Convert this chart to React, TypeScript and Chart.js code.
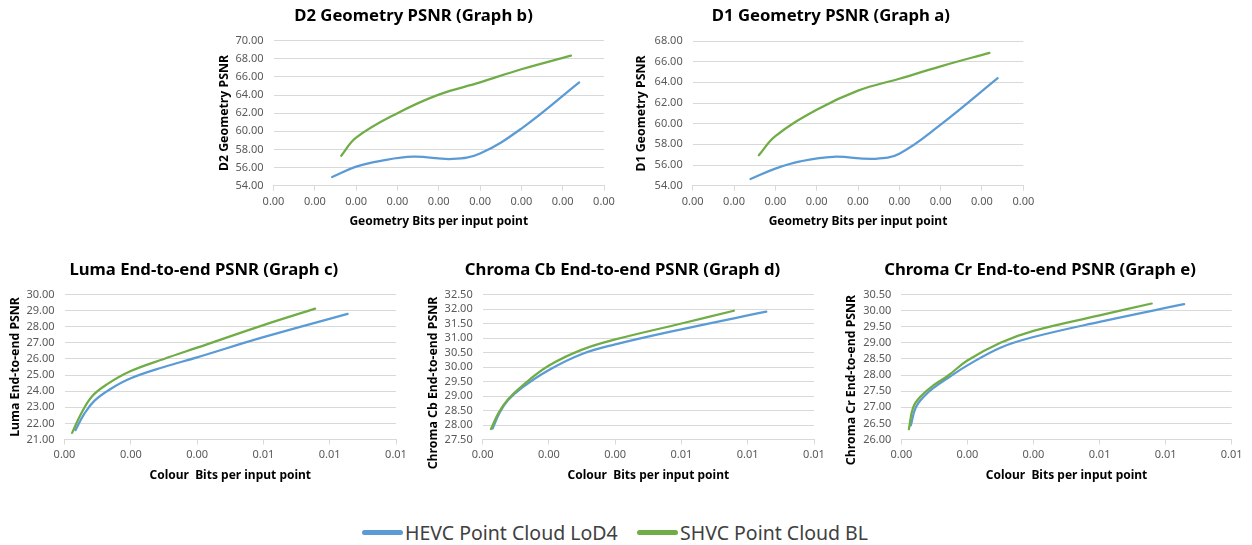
import React, { useEffect, useRef } from "react";
import { Chart, registerables } from "chart.js";

Chart.register(...registerables);

const BLUE = "#5B9BD5";
const GREEN = "#70AD47";
const FONT = "'Noto Sans', 'DejaVu Sans', sans-serif";
const GRID = "#D9D9D9";
const TICK_COLOR = "#595959";

const SERIES_NAMES = ["HEVC Point Cloud LoD4", "SHVC Point Cloud BL"];

// ---- Graph b : D2 Geometry PSNR ----
const d2HevcX = [0.00071, 0.001, 0.0013, 0.00169, 0.00217, 0.0025, 0.003, 0.0037];
const d2HevcY = [54.96, 56.1, 56.75, 57.2, 56.95, 57.55, 60.3, 65.4];
const d2ShvcX = [0.00082, 0.001, 0.0015, 0.002, 0.0025, 0.003, 0.0036];
const d2ShvcY = [57.3, 59.3, 62.0, 64.05, 65.4, 66.85, 68.35];

// ---- Graph a : D1 Geometry PSNR ----
const d1HevcX = [0.0007, 0.001, 0.0013, 0.0017, 0.0022, 0.0025, 0.003, 0.00369];
const d1HevcY = [54.65, 55.65, 56.35, 56.8, 56.6, 57.1, 59.9, 64.4];
const d1ShvcX = [0.0008, 0.001, 0.0015, 0.002, 0.0025, 0.003, 0.00359];
const d1ShvcY = [56.95, 58.8, 61.35, 63.2, 64.35, 65.55, 66.85];

// ---- Graph c : Luma ----
const lumaHevcX = [0.00033, 0.0006, 0.0009, 0.0014, 0.002, 0.003, 0.004, 0.006, 0.00854];
const lumaHevcY = [21.58, 22.6, 23.4, 24.15, 24.8, 25.5, 26.1, 27.35, 28.8];
const lumaShvcX = [0.00023, 0.0005, 0.00084, 0.0013, 0.002, 0.003, 0.004, 0.006, 0.00756];
const lumaShvcY = [21.41, 22.6, 23.7, 24.45, 25.25, 26.0, 26.7, 28.1, 29.12];

// ---- Graph d : Chroma Cb ----
const cbHevcX = [0.0003, 0.0005, 0.00076, 0.0012, 0.002, 0.003, 0.004, 0.006, 0.00856];
const cbHevcY = [27.88, 28.4, 28.85, 29.3, 29.9, 30.45, 30.78, 31.3, 31.91];
const cbShvcX = [0.00025, 0.00048, 0.00076, 0.0012, 0.002, 0.003, 0.004, 0.006, 0.00758];
const cbShvcY = [27.86, 28.42, 28.88, 29.36, 30.05, 30.6, 30.95, 31.5, 31.94];

// ---- Graph e : Chroma Cr ----
const crHevcX = [0.00029, 0.00044, 0.0007, 0.001, 0.0014, 0.002, 0.003, 0.004, 0.006, 0.00856];
const crHevcY = [26.44, 27.0, 27.35, 27.62, 27.9, 28.3, 28.85, 29.18, 29.65, 30.2];
const crShvcX = [0.00023, 0.00036, 0.0006, 0.001, 0.0014, 0.002, 0.003, 0.004, 0.006, 0.00758];
const crShvcY = [26.32, 27.0, 27.35, 27.7, 27.97, 28.45, 29.0, 29.37, 29.85, 30.22];

// axis ranges
const geoX = { min: 0, max: 0.004, step: 0.0005 };
const colX = { min: 0, max: 0.01, step: 0.002 };
const d2Y = { min: 54, max: 70, step: 2 };
const d1Y = { min: 54, max: 68, step: 2 };
const lumaY = { min: 21, max: 30, step: 1 };
const cbY = { min: 27.5, max: 32.5, step: 0.5 };
const crY = { min: 26, max: 30.5, step: 0.5 };

type Layout = {
  plotL: number; plotR: number; plotT: number; plotB: number;
  yTitleX: number; yTitleCY: number; titleCX: number; titleCY: number; xTitleCY: number; xLabelCY: number;
};

type Spec = {
  title: string; xTitle: string; yTitle: string;
  hevc: [number[], number[]]; shvc: [number[], number[]];
  xr: { min: number; max: number; step: number };
  yr: { min: number; max: number; step: number };
  lay: Layout;
};

const specs: Spec[] = [
  {
    title: "D2 Geometry PSNR (Graph b)", xTitle: "Geometry Bits per input point", yTitle: "D2 Geometry PSNR",
    hevc: [d2HevcX, d2HevcY], shvc: [d2ShvcX, d2ShvcY], xr: geoX, yr: d2Y,
    lay: { plotL: 273.5, plotR: 604, plotT: 40.7, plotB: 185.7, yTitleX: 224, yTitleCY: 113, titleCX: 413.5, titleCY: 16, xTitleCY: 222, xLabelCY: 202 },
  },
  {
    title: "D1 Geometry PSNR (Graph a)", xTitle: "Geometry Bits per input point", yTitle: "D1 Geometry PSNR",
    hevc: [d1HevcX, d1HevcY], shvc: [d1ShvcX, d1ShvcY], xr: geoX, yr: d1Y,
    lay: { plotL: 692.7, plotR: 1023.3, plotT: 41, plotB: 185.7, yTitleX: 641.7, yTitleCY: 113.5, titleCX: 830.8, titleCY: 16, xTitleCY: 222, xLabelCY: 202 },
  },
  {
    title: "Luma End-to-end PSNR (Graph c)", xTitle: "Colour  Bits per input point", yTitle: "Luma End-to-end PSNR",
    hevc: [lumaHevcX, lumaHevcY], shvc: [lumaShvcX, lumaShvcY], xr: colX, yr: lumaY,
    lay: { plotL: 64.5, plotR: 396, plotT: 294.5, plotB: 439.5, yTitleX: 15, yTitleCY: 367, titleCX: 203.8, titleCY: 270, xTitleCY: 475.5, xLabelCY: 455 },
  },
  {
    title: "Chroma Cb End-to-end PSNR (Graph d)", xTitle: "Colour  Bits per input point", yTitle: "Chroma Cb End-to-end PSNR",
    hevc: [cbHevcX, cbHevcY], shvc: [cbShvcX, cbShvcY], xr: colX, yr: cbY,
    lay: { plotL: 482.7, plotR: 814, plotT: 294.5, plotB: 439.5, yTitleX: 433.3, yTitleCY: 383, titleCX: 622.5, titleCY: 270, xTitleCY: 475.5, xLabelCY: 455 },
  },
  {
    title: "Chroma Cr End-to-end PSNR (Graph e)", xTitle: "Colour  Bits per input point", yTitle: "Chroma Cr End-to-end PSNR",
    hevc: [crHevcX, crHevcY], shvc: [crShvcX, crShvcY], xr: colX, yr: crY,
    lay: { plotL: 901.3, plotR: 1231.7, plotT: 294.5, plotB: 439.5, yTitleX: 851.7, yTitleCY: 380, titleCX: 1040, titleCY: 270, xTitleCY: 475.5, xLabelCY: 455 },
  },
];

const TITLE_SIZE = 16.7;
const AXIS_TITLE_SIZE = 12;
const Y_TITLE_SIZE = 12.3;
const TICK_SIZE = 11;

function geometry(lay: Layout) {
  const titleLH = TITLE_SIZE * 1.2;
  const axOff = (AXIS_TITLE_SIZE * 1.2) / 2 + 4;
  const yScaleLeft = lay.yTitleX - axOff;
  const canvasLeft = Math.floor(yScaleLeft) - 2;
  const padL = yScaleLeft - canvasLeft;
  const yW = lay.plotL - yScaleLeft;
  const boxRight = 2 * lay.titleCX - yScaleLeft;
  const dummyW = Math.max(0, boxRight - lay.plotR);
  const canvasRight = Math.ceil(Math.max(boxRight, lay.plotR + 18));
  const padR = canvasRight - (lay.plotR + dummyW);
  const canvasTop = Math.floor(lay.titleCY - titleLH / 2 - 2);
  const tPadTop = lay.titleCY - titleLH / 2 - canvasTop;
  const tPadBottom = lay.plotT - canvasTop - tPadTop - titleLH;
  const xH = lay.xTitleCY + axOff - lay.plotB;
  const canvasBottom = Math.ceil(Math.max(lay.plotB + xH + 2, lay.yTitleCY + 100));
  const padB = canvasBottom - (lay.plotB + xH);
  const xTickPad = lay.xLabelCY - (TICK_SIZE * 1.2) / 2 - 5 - lay.plotB;
  return {
    canvasLeft, canvasTop, width: canvasRight - canvasLeft, height: canvasBottom - canvasTop,
    padL, padR, padB, yW, dummyW, tPadTop, tPadBottom, xH, xTickPad,
    yTitleX: lay.yTitleX - canvasLeft, yTitleY: lay.yTitleCY - canvasTop,
  };
}

// draws the vertical value-axis title (Excel centres long titles slightly lower than the plot)
const yTitlePlugin = {
  id: "yTitle",
  afterDraw(chart: any, _args: any, opts: any) {
    if (!opts || !opts.text) return;
    const ctx = chart.ctx;
    ctx.save();
    ctx.translate(opts.x, opts.y);
    ctx.rotate(-Math.PI / 2);
    ctx.font = `bold ${Y_TITLE_SIZE}px ${FONT}`;
    ctx.fillStyle = "#000000";
    ctx.textAlign = "center";
    ctx.textBaseline = "middle";
    ctx.fillText(opts.text, 0, 0);
    ctx.restore();
  },
};

function makeConfig(spec: Spec, g: ReturnType<typeof geometry>): any {
  const toPts = (s: [number[], number[]]) => s[0].map((x, i) => ({ x, y: s[1][i] }));
  const fmt = (v: any) => Number(v).toFixed(2);
  return {
    type: "line",
    data: {
      datasets: [
        {
          label: SERIES_NAMES[0], data: toPts(spec.hevc), borderColor: BLUE, backgroundColor: BLUE,
          borderWidth: 2.25, pointRadius: 0, tension: 0.4, order: 1, borderCapStyle: "round",
        },
        {
          label: SERIES_NAMES[1], data: toPts(spec.shvc), borderColor: GREEN, backgroundColor: GREEN,
          borderWidth: 2.25, pointRadius: 0, tension: 0.4, order: 0, borderCapStyle: "round",
        },
      ],
    },
    plugins: [yTitlePlugin],
    options: {
      responsive: false,
      maintainAspectRatio: false,
      animation: false,
      events: [],
      layout: { padding: { left: g.padL, right: g.padR, top: 0, bottom: g.padB } },
      plugins: {
        legend: { display: false },
        tooltip: { enabled: false },
        yTitle: { text: spec.yTitle, x: g.yTitleX, y: g.yTitleY },
        title: {
          display: true, text: spec.title, color: "#000000",
          font: { family: FONT, size: TITLE_SIZE, weight: "bold", lineHeight: 1.2 },
          padding: { top: g.tPadTop, bottom: g.tPadBottom },
        },
      },
      scales: {
        x: {
          type: "linear", min: spec.xr.min, max: spec.xr.max,
          ticks: {
            stepSize: spec.xr.step, callback: fmt, color: TICK_COLOR, padding: g.xTickPad,
            maxRotation: 0, autoSkip: false, font: { family: FONT, size: TICK_SIZE, lineHeight: 1.2 },
          },
          grid: { drawOnChartArea: false, drawTicks: true, tickLength: 5, color: GRID },
          border: { display: true, color: GRID },
          title: {
            display: true, text: spec.xTitle, color: "#000000", padding: { top: 4, bottom: 4 },
            font: { family: FONT, size: AXIS_TITLE_SIZE, weight: "bold", lineHeight: 1.2 },
          },
          afterFit: (s: any) => { s.height = g.xH; s.paddingLeft = 0; s.paddingRight = 0; },
        },
        y: {
          type: "linear", position: "left", min: spec.yr.min, max: spec.yr.max,
          ticks: {
            stepSize: spec.yr.step, callback: fmt, color: TICK_COLOR, padding: 10, autoSkip: false,
            font: { family: FONT, size: TICK_SIZE, lineHeight: 1.2 },
          },
          grid: { color: GRID, drawTicks: false },
          border: { display: false },
          title: { display: false, text: spec.yTitle },
          afterFit: (s: any) => { s.width = g.yW; s.paddingTop = 0; s.paddingBottom = 0; },
        },
        spacer: {
          type: "linear", position: "right", display: true,
          ticks: { display: false }, grid: { display: false }, border: { display: false },
          title: { display: false },
          afterFit: (s: any) => { s.width = g.dummyW; s.paddingTop = 0; s.paddingBottom = 0; },
        },
      },
    },
  };
}

function PlotBox({ spec }: { spec: Spec }) {
  const ref = useRef<HTMLCanvasElement | null>(null);
  const g = geometry(spec.lay);
  useEffect(() => {
    if (!ref.current) return;
    const chart = new Chart(ref.current, makeConfig(spec, g));
    return () => chart.destroy();
  }, []);
  return (
    <canvas
      ref={ref}
      width={g.width}
      height={g.height}
      style={{ position: "absolute", left: g.canvasLeft, top: g.canvasTop, width: g.width, height: g.height }}
    />
  );
}

function LegendItem({ left, color, text }: { left: number; color: string; text: string }) {
  return (
    <div style={{ position: "absolute", left, top: 520, height: 24, display: "flex", alignItems: "center" }}>
      <span style={{ display: "inline-block", width: 41, height: 5, borderRadius: 3, background: color, marginRight: 2 }} />
      <span style={{ fontFamily: FONT, fontSize: 19.5, color: "#404040", whiteSpace: "pre" }}>{text}</span>
    </div>
  );
}

export default function App() {
  useEffect(() => {
    document.body.style.margin = "0";
  }, []);
  return (
    <div style={{ position: "relative", width: 1252, height: 545, background: "#ffffff", overflow: "hidden" }}>
      {specs.map((s) => (
        <PlotBox key={s.title} spec={s} />
      ))}
      <LegendItem left={362} color={BLUE} text={SERIES_NAMES[0]} />
      <LegendItem left={637} color={GREEN} text={SERIES_NAMES[1]} />
    </div>
  );
}
